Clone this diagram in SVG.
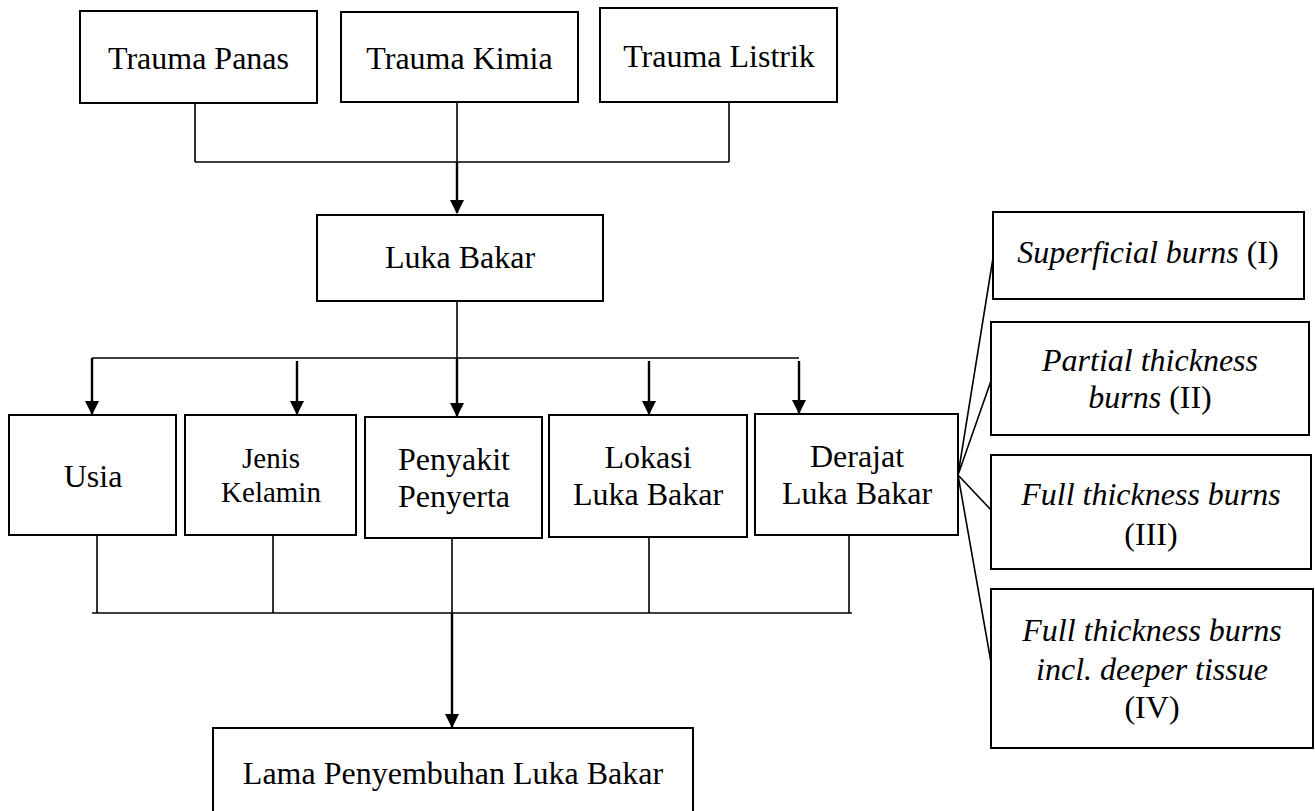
<svg xmlns="http://www.w3.org/2000/svg" width="1315" height="811" viewBox="0 0 1315 811">
<style>
.box{fill:#fff;stroke:#000;stroke-width:2}
.t{font-family:"Liberation Serif","Times New Roman",serif;font-size:32px;fill:#000;text-anchor:middle}
.s{font-size:29px}
.i{font-style:italic}
.ln{fill:none;stroke:#000;stroke-width:1.6}
.ar{fill:none;stroke:#000;stroke-width:2.4}
</style>
<defs>
<marker id="ah" markerWidth="6" markerHeight="6" refX="5.6" refY="3" orient="auto" markerUnits="strokeWidth">
<path d="M0,0 L6,3 L0,6 z" fill="#000"/>
</marker>
</defs>
<rect width="1315" height="811" fill="#fff"/>
<g id="connectors">
<path class="ln" d="M195,103 V162 M729,102 V162 M457,102 V162 M195,162 H729"/>
<path class="ar" d="M457,162 V213" marker-end="url(#ah)"/>
<path class="ln" d="M457,301 V358 M92,358 H799"/>
<path class="ar" d="M92,358 V414" marker-end="url(#ah)"/>
<path class="ar" d="M297,361 V414" marker-end="url(#ah)"/>
<path class="ar" d="M457,358 V416" marker-end="url(#ah)"/>
<path class="ar" d="M649,361 V414" marker-end="url(#ah)"/>
<path class="ar" d="M799,361 V413" marker-end="url(#ah)"/>
<path class="ln" d="M97,535 V613 M273,535 V613 M649,537 V613 M849,535 V613 M452,538 V613 M92,613 H852"/>
<path class="ar" d="M452,613 V727" marker-end="url(#ah)"/>
<path class="ln" d="M958,475 L993,258 M958,475 L992,378 M958,475 L992,511 M958,475 L992,668"/>
</g>
<g id="trauma-panas"><rect class="box" x="80" y="11" width="237" height="92"/><text class="t" x="198.5" y="69">Trauma Panas</text></g>
<g id="trauma-kimia"><rect class="box" x="341" y="12" width="237" height="90"/><text class="t" x="459.5" y="69">Trauma Kimia</text></g>
<g id="trauma-listrik"><rect class="box" x="600" y="8" width="237" height="94"/><text class="t" x="719" y="67">Trauma Listrik</text></g>
<g id="luka-bakar"><rect class="box" x="317" y="215" width="286" height="86"/><text class="t" x="460" y="268">Luka Bakar</text></g>
<g id="usia"><rect class="box" x="9" y="415" width="167" height="120"/><text class="t" x="93" y="487">Usia</text></g>
<g id="jenis-kelamin"><rect class="box" x="185" y="415" width="171" height="120"/><text class="t s" x="271" y="468">Jenis</text><text class="t s" x="271" y="502">Kelamin</text></g>
<g id="penyakit-penyerta"><rect class="box" x="365" y="417" width="177" height="121"/><text class="t" x="454" y="470">Penyakit</text><text class="t" x="454" y="507">Penyerta</text></g>
<g id="lokasi-luka-bakar"><rect class="box" x="549" y="415" width="198" height="122"/><text class="t" x="648" y="468">Lokasi</text><text class="t" x="648" y="505">Luka Bakar</text></g>
<g id="derajat-luka-bakar"><rect class="box" x="755" y="414" width="203" height="121"/><text class="t" x="857" y="467">Derajat</text><text class="t" x="857" y="504">Luka Bakar</text></g>
<g id="lama-penyembuhan"><rect class="box" x="213" y="728" width="480" height="86"/><text class="t" x="453" y="784">Lama Penyembuhan Luka Bakar</text></g>
<g id="superficial"><rect class="box" x="993" y="212" width="311" height="87"/><text class="t" x="1148" y="263"><tspan class="i">Superficial burns</tspan> (I)</text></g>
<g id="partial"><rect class="box" x="991" y="322" width="318" height="113"/><text class="t i" x="1150" y="371">Partial thickness</text><text class="t" x="1150" y="408"><tspan class="i">burns</tspan> (II)</text></g>
<g id="full-iii"><rect class="box" x="991" y="455" width="320" height="114"/><text class="t i" x="1151" y="505">Full thickness burns</text><text class="t" x="1151" y="545">(III)</text></g>
<g id="full-iv"><rect class="box" x="991" y="589" width="322" height="159"/><text class="t i" x="1152" y="641">Full thickness burns</text><text class="t i" x="1152" y="680">incl. deeper tissue</text><text class="t" x="1152" y="718">(IV)</text></g>
</svg>
